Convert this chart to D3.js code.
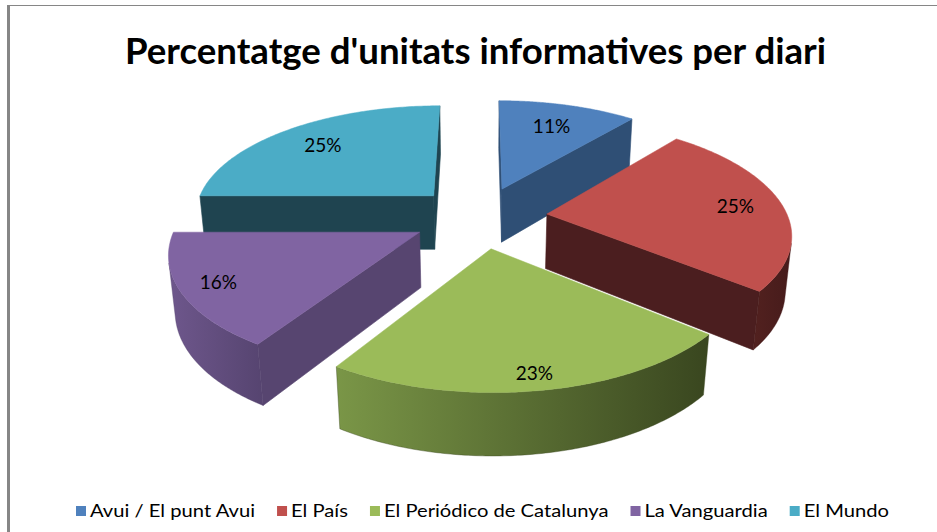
<!DOCTYPE html>
<html>
<head>
<meta charset="utf-8">
<script src="https://cdn.jsdelivr.net/npm/d3@7"></script>
<style>
  body { margin: 0; background: #fff; }
  svg { display: block; }
</style>
</head>
<body>
<div class="chart"></div>
<script>
// chart data
const titleText = "Percentatge d'unitats informatives per diari";
const categories = ["Avui / El punt Avui", "El País", "El Periódico de Catalunya", "La Vanguardia", "El Mundo"];
const values = [11, 25, 23, 16, 25];
const labels = ["11%", "25%", "23%", "16%", "25%"];

// colours (top face, cut faces, curved side light -> dark)
const topColors = ["#4F81BD", "#C0504D", "#9BBB59", "#8064A2", "#4BACC6"];
const sideColors = ["#2F4F75", "#4B1E1F", "#3F4E25", "#574570", "#1F4450"];
const sideLight = ["#3E6593", "#52211F", "#7A9647", "#6E578C", "#2A6A7A"];
const sideDark = ["#2A4569", "#461B1B", "#39461F", "#564470", "#1D4450"];

const width = 937, height = 532;

let svg = d3.select("div.chart").append("svg")
    .attr("width", width)
    .attr("height", height);

// frame lines (top + left, like the excel chart area)
svg.append("line")
    .attr("x1", 7).attr("x2", width).attr("y1", 5.5).attr("y2", 5.5)
    .attr("stroke", "#868686").attr("stroke-width", 1);
svg.append("line")
    .attr("x1", 8.5).attr("x2", 8.5).attr("y1", 5).attr("y2", height)
    .attr("stroke", "#868686").attr("stroke-width", 3);

// title
svg.append("text")
    .attr("x", 475.5).attr("y", 64)
    .attr("text-anchor", "middle")
    .attr("textLength", 701).attr("lengthAdjust", "spacingAndGlyphs")
    .style("font-family", "Lato").style("font-weight", "bold").style("font-size", "36px")
    .attr("fill", "#000")
    .text(titleText);

// 3d perspective set-up
const cx = 480, cy = 217, scale = 241;
const elev = 27.2 * Math.PI / 180, dist = 5.7;
const explode = 0.28, thick = 0.26;
const cosE = Math.cos(elev), sinE = Math.sin(elev);
const camY = dist * cosE;

const project = (X, Y, Z) => {
  const q = dist / (dist - Y * cosE - Z * sinE);
  return [cx + scale * X * q, cy + scale * (Y * sinE - Z * cosE) * q];
};

let pie = d3.pie().sort(null).value(d => d)(values);
pie.forEach((d, i) => {
  d.index = i;
  d.mid = (d.startAngle + d.endAngle) / 2;
  d.ox = explode * Math.sin(d.mid);
  d.oy = -explode * Math.cos(d.mid);
});

const line = d3.line();
const defs = svg.append("defs");
const pieG = svg.append("g");

// back slices first
const order = pie.slice().sort((a, b) => a.oy - b.oy);

order.forEach(d => {
  const i = d.index;
  const a0 = d.startAngle, a1 = d.endAngle;
  const P = (a, r, z) => project(d.ox + r * Math.sin(a), d.oy - r * Math.cos(a), z);
  const sg = pieG.append("g");

  // cut faces
  const startVis = d.ox * Math.cos(a0) - Math.sin(a0) * (camY - d.oy);
  const endVis = -d.ox * Math.cos(a1) + Math.sin(a1) * (camY - d.oy);
  [[a0, startVis], [a1, endVis]].forEach(([a, v]) => {
    if (v <= 0) return;
    sg.append("path")
      .attr("d", line([P(0, 0, 0), P(a, 1, 0), P(a, 1, -thick), P(0, 0, -thick)]) + "Z")
      .attr("fill", sideColors[i])
      .attr("stroke", sideColors[i]).attr("stroke-width", 0.6);
  });

  // curved outer side
  const steps = d3.range(0, 121).map(k => a0 + (a1 - a0) * k / 120);
  const vis = steps.filter(a => -d.ox * Math.sin(a) + d.oy * Math.cos(a) - 1 - camY * Math.cos(a) > 0);
  if (vis.length > 1) {
    const topPts = vis.map(a => P(a, 1, 0));
    const botPts = vis.map(a => P(a, 1, -thick)).reverse();
    const xs = topPts.concat(botPts).map(p => p[0]);
    const gid = "side" + i;
    const grad = defs.append("linearGradient").attr("id", gid)
        .attr("gradientUnits", "userSpaceOnUse")
        .attr("x1", d3.min(xs)).attr("x2", d3.max(xs)).attr("y1", 0).attr("y2", 0);
    grad.append("stop").attr("offset", "0%").attr("stop-color", sideLight[i]);
    grad.append("stop").attr("offset", "100%").attr("stop-color", sideDark[i]);
    sg.append("path")
      .attr("d", line(topPts.concat(botPts)) + "Z")
      .attr("fill", "url(#" + gid + ")")
      .attr("stroke", sideDark[i]).attr("stroke-width", 0.4);
  }

  // top face
  sg.append("path")
    .attr("d", line([P(0, 0, 0)].concat(steps.map(a => P(a, 1, 0)))) + "Z")
    .attr("fill", topColors[i])
    .attr("stroke", topColors[i]).attr("stroke-width", 0.5);
});

// percentage labels: a bit further out on the front slices
pie.forEach(d => {
  const r = 0.81 - 0.09 * Math.cos(d.mid);
  const p = project(d.ox + r * Math.sin(d.mid), d.oy - r * Math.cos(d.mid), 0);
  svg.append("text")
    .attr("x", p[0]).attr("y", p[1]).attr("dy", "0.35em")
    .attr("text-anchor", "middle")
    .style("font-family", "Lato").style("font-size", "19px")
    .attr("fill", "#000")
    .text(labels[d.index]);
});

// legend
const legend = svg.append("g")
    .style("font-family", "Lato").style("font-size", "18px");
const items = categories.map((c, i) => {
  const t = legend.append("text").attr("y", 517).attr("fill", "#000").text(c);
  return { t: t, w: t.node().getComputedTextLength(), i: i };
});
const box = 10, boxGap = 4, itemGap = 22;
const legLeft = 76, legRight = 889;
const rawText = d3.sum(items, it => it.w);
const stretch = (legRight - legLeft - items.length * (box + boxGap) - itemGap * (items.length - 1)) / rawText;
let lx = legLeft;
items.forEach(it => {
  const w = it.w * stretch;
  legend.append("rect")
    .attr("x", lx).attr("y", 506).attr("width", box).attr("height", box)
    .attr("fill", topColors[it.i]);
  it.t.attr("x", lx + box + boxGap)
    .attr("textLength", w).attr("lengthAdjust", "spacingAndGlyphs");
  lx += box + boxGap + w + itemGap;
});
</script>
</body>
</html>
